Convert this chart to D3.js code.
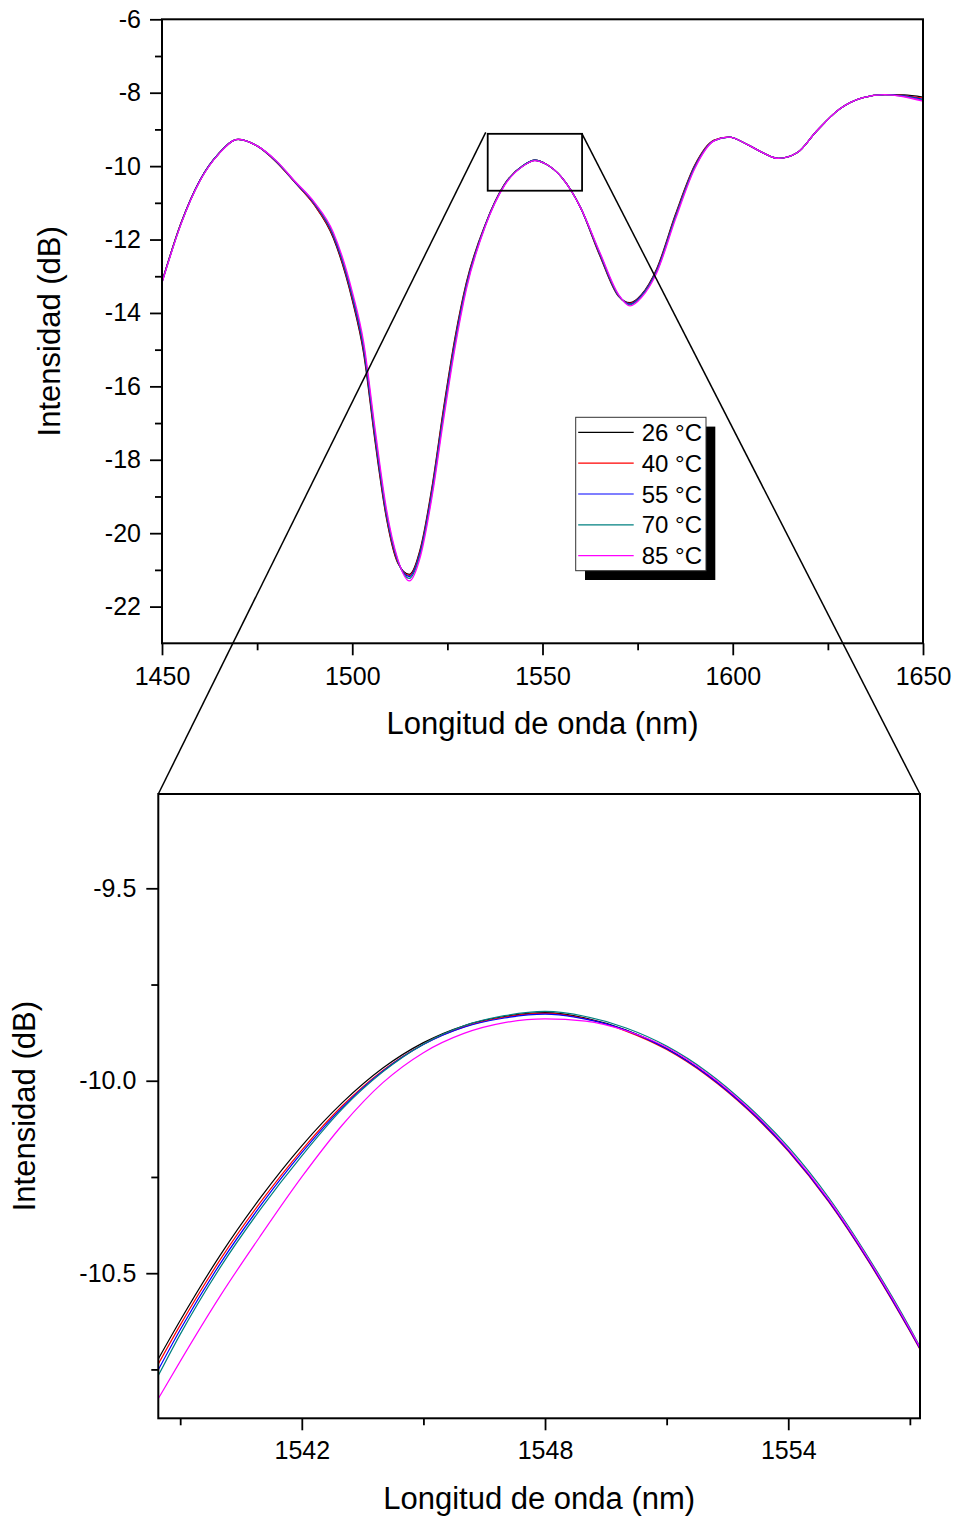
<!DOCTYPE html>
<html><head><meta charset="utf-8">
<script src="https://cdn.jsdelivr.net/npm/d3@7/dist/d3.min.js"></script>
<style>
body{margin:0;background:#fff}
text{font-family:"Liberation Sans",Arial,sans-serif;fill:#000}
</style>
</head><body>
<svg id="chart" width="956" height="1519"></svg>
<script>
// ---------------- data ----------------
const seriesNames  = ["26 °C", "40 °C", "55 °C", "70 °C", "85 °C"];
const seriesColors = ["#000000", "#ff0000", "#0000ff", "#008080", "#ff00ff"];

// full spectrum (upper panel)
const topWavelength = [1450,1455,1460,1465,1470,1475,1480,1485,1490,1495,1500,1503,1506,1509,1512,1515,1518,1521,1524,1527,1530,1535,1540,1545,1548,1551,1555,1560,1565,1570,1573,1576,1580,1585,1590,1595,1599,1604,1608,1612,1617,1622,1628,1634,1640,1645,1650];
const top26 = [-13.15,-11.55,-10.38,-9.65,-9.27,-9.45,-9.88,-10.45,-11.05,-11.95,-13.65,-15.10,-17.50,-19.60,-20.82,-21.12,-20.38,-18.72,-16.60,-14.68,-13.17,-11.58,-10.50,-9.98,-9.84,-9.95,-10.30,-11.13,-12.42,-13.55,-13.72,-13.50,-12.80,-11.30,-9.98,-9.30,-9.21,-9.42,-9.64,-9.79,-9.63,-9.05,-8.45,-8.14,-8.05,-8.06,-8.12];
const top40 = [-13.15,-11.55,-10.38,-9.65,-9.27,-9.45,-9.88,-10.45,-11.05,-11.92,-13.60,-15.03,-17.42,-19.55,-20.80,-21.15,-20.43,-18.78,-16.67,-14.74,-13.21,-11.59,-10.50,-9.98,-9.84,-9.95,-10.30,-11.13,-12.40,-13.54,-13.74,-13.52,-12.83,-11.33,-10.00,-9.30,-9.21,-9.42,-9.64,-9.79,-9.63,-9.05,-8.45,-8.14,-8.05,-8.08,-8.15];
const top55 = [-13.16,-11.56,-10.38,-9.65,-9.27,-9.45,-9.87,-10.44,-11.02,-11.88,-13.55,-14.97,-17.35,-19.49,-20.77,-21.18,-20.47,-18.84,-16.74,-14.80,-13.25,-11.60,-10.51,-9.98,-9.84,-9.95,-10.30,-11.13,-12.38,-13.53,-13.76,-13.53,-12.85,-11.36,-10.02,-9.31,-9.21,-9.42,-9.64,-9.79,-9.63,-9.05,-8.45,-8.14,-8.05,-8.09,-8.18];
const top70 = [-13.17,-11.57,-10.39,-9.65,-9.27,-9.45,-9.86,-10.43,-11.00,-11.85,-13.50,-14.90,-17.28,-19.44,-20.75,-21.23,-20.52,-18.90,-16.80,-14.86,-13.29,-11.61,-10.51,-9.98,-9.84,-9.95,-10.30,-11.13,-12.36,-13.52,-13.78,-13.55,-12.88,-11.38,-10.04,-9.31,-9.21,-9.42,-9.64,-9.79,-9.63,-9.05,-8.45,-8.14,-8.05,-8.10,-8.20];
const top85 = [-13.18,-11.58,-10.40,-9.66,-9.27,-9.45,-9.85,-10.42,-10.98,-11.80,-13.42,-14.80,-17.16,-19.35,-20.72,-21.30,-20.60,-18.99,-16.91,-14.95,-13.35,-11.63,-10.53,-9.99,-9.85,-9.95,-10.30,-11.13,-12.33,-13.50,-13.81,-13.58,-12.91,-11.43,-10.07,-9.32,-9.21,-9.42,-9.64,-9.79,-9.63,-9.05,-8.45,-8.14,-8.05,-8.11,-8.23];

// zoomed peak (lower panel)
const zoomWavelength = [1538.46,1539,1540,1541,1542,1543,1544,1545,1546,1547,1548,1549,1550,1551,1552,1553,1554,1555,1556,1557,1557.25];
const zoom26 = [-10.723,-10.623,-10.451,-10.301,-10.169,-10.057,-9.967,-9.901,-9.857,-9.833,-9.823,-9.837,-9.868,-9.916,-9.984,-10.072,-10.180,-10.312,-10.470,-10.648,-10.695];
const zoom40 = [-10.736,-10.635,-10.463,-10.313,-10.180,-10.065,-9.973,-9.905,-9.860,-9.835,-9.825,-9.839,-9.871,-9.919,-9.987,-10.075,-10.183,-10.315,-10.473,-10.651,-10.698];
const zoom55 = [-10.751,-10.647,-10.473,-10.322,-10.187,-10.069,-9.975,-9.906,-9.861,-9.837,-9.827,-9.840,-9.869,-9.917,-9.985,-10.073,-10.181,-10.313,-10.471,-10.649,-10.696];
const zoom70 = [-10.766,-10.659,-10.483,-10.331,-10.195,-10.073,-9.977,-9.905,-9.857,-9.831,-9.820,-9.833,-9.863,-9.910,-9.977,-10.065,-10.172,-10.304,-10.463,-10.642,-10.691];
const zoom85 = [-10.826,-10.729,-10.557,-10.400,-10.250,-10.115,-10.005,-9.927,-9.877,-9.849,-9.839,-9.845,-9.870,-9.913,-9.981,-10.069,-10.177,-10.309,-10.467,-10.645,-10.693];

// axes
const topXDomain = [1450, 1650];
const topYDomain = [-23, -6];
const topXTicksMajor = [1450, 1500, 1550, 1600, 1650];
const topXTicksMinor = [1475, 1525, 1575, 1625];
const topYTicksMajor = [-22, -20, -18, -16, -14, -12, -10, -8, -6];
const topYTicksMinor = [-21, -19, -17, -15, -13, -11, -9, -7];

const zoomXDomain = [1538.46, 1557.25];
const zoomYDomain = [-10.877, -9.255];
const zoomXTicksMajor = [1542, 1548, 1554];
const zoomXTicksMinor = [1539, 1545, 1551, 1557];
const zoomYTicksMajor = [-10.5, -10.0, -9.5];
const zoomYTicksMinor = [-10.75, -10.25, -9.75];

// magnified region marked on the upper panel: [x0, x1, yLow, yHigh]
const zoomBox = [1535.6, 1560.4, -10.67, -9.12];

const xTitle = "Longitud de onda (nm)";
const yTitle = "Intensidad (dB)";

// ---------------- drawing ----------------
const svg = d3.select("#chart");
const topSeries  = [top26, top40, top55, top70, top85];
const zoomSeries = [zoom26, zoom40, zoom55, zoom70, zoom85];
const hyphen = f => (d => f(d).replace("\u2212", "-"));

function panel(cfg) {
  const g = svg.append("g");
  const x = d3.scaleLinear().domain(cfg.xDomain).range([cfg.L, cfg.R]);
  const y = d3.scaleLinear().domain(cfg.yDomain).range([cfg.B, cfg.T]);
  const id = "clip" + cfg.name;
  svg.append("clipPath").attr("id", id).append("rect")
    .attr("x", cfg.L).attr("y", cfg.T).attr("width", cfg.R - cfg.L).attr("height", cfg.B - cfg.T);

  const line = d3.line().x(d => x(d[0])).y(d => y(d[1])).curve(d3.curveMonotoneX);
  const lines = g.append("g").attr("clip-path", `url(#${id})`);
  cfg.series.forEach((vals, i) => {
    lines.append("path")
      .datum(cfg.wl.map((w, k) => [w, vals[k]]))
      .attr("d", line)
      .attr("fill", "none")
      .attr("stroke", seriesColors[i])
      .attr("stroke-width", cfg.lw);
  });

  const ax = [
    g.append("g").attr("transform", `translate(0,${cfg.B})`)
      .call(d3.axisBottom(x).tickValues(cfg.xMajor).tickSize(12).tickPadding(cfg.xPad).tickFormat(d3.format("d"))),
    g.append("g").attr("transform", `translate(0,${cfg.B})`)
      .call(d3.axisBottom(x).tickValues(cfg.xMinor).tickSize(7).tickFormat("")),
    g.append("g").attr("transform", `translate(${cfg.L},0)`)
      .call(d3.axisLeft(y).tickValues(cfg.yMajor).tickSize(12).tickPadding(cfg.yPad).tickFormat(hyphen(cfg.fmt))),
    g.append("g").attr("transform", `translate(${cfg.L},0)`)
      .call(d3.axisLeft(y).tickValues(cfg.yMinor).tickSize(7).tickFormat(""))
  ];
  ax.forEach(a => {
    a.select(".domain").remove();
    a.selectAll(".tick line").attr("stroke", "#000").attr("stroke-width", 1.8);
    a.selectAll(".tick text").attr("font-size", 25).attr("font-family", '"Liberation Sans",Arial,sans-serif').attr("fill", "#000");
  });

  g.append("rect").attr("x", cfg.L).attr("y", cfg.T)
    .attr("width", cfg.R - cfg.L).attr("height", cfg.B - cfg.T)
    .attr("fill", "none").attr("stroke", "#000").attr("stroke-width", 2);

  g.append("text").attr("x", (cfg.L + cfg.R) / 2).attr("y", cfg.xTitleY)
    .attr("text-anchor", "middle").attr("font-size", 31).text(xTitle);
  g.append("text").attr("transform", `translate(${cfg.yTitleX},${(cfg.T + cfg.B) / 2}) rotate(-90)`)
    .attr("text-anchor", "middle").attr("font-size", 31).text(yTitle);
  return {x, y, g};
}

const topP = panel({
  name: "top", L: 162, R: 923, T: 19.3, B: 643.3,
  xDomain: topXDomain, yDomain: topYDomain,
  wl: topWavelength, series: topSeries, lw: 1.3,
  xMajor: topXTicksMajor, xMinor: topXTicksMinor,
  yMajor: topYTicksMajor, yMinor: topYTicksMinor,
  fmt: d3.format("d"), xPad: 12, yPad: 9,
  xTitleY: 734, yTitleX: 60
});

const botP = panel({
  name: "zoom", L: 158.3, R: 920, T: 794, B: 1418.3,
  xDomain: zoomXDomain, yDomain: zoomYDomain,
  wl: zoomWavelength, series: zoomSeries, lw: 1.2,
  xMajor: zoomXTicksMajor, xMinor: zoomXTicksMinor,
  yMajor: zoomYTicksMajor, yMinor: zoomYTicksMinor,
  fmt: d3.format(".1f"), xPad: 11, yPad: 10,
  xTitleY: 1509, yTitleX: 35
});

// magnified-region box on upper panel + connector lines
const bx0 = topP.x(zoomBox[0]), bx1 = topP.x(zoomBox[1]);
const byTop = topP.y(zoomBox[3]), byBot = topP.y(zoomBox[2]);
svg.append("rect").attr("x", bx0).attr("y", byTop)
  .attr("width", bx1 - bx0).attr("height", byBot - byTop)
  .attr("fill", "none").attr("stroke", "#000").attr("stroke-width", 1.8);
svg.append("line")
  .attr("x1", bx0 - 2).attr("y1", byTop - 1.5)
  .attr("x2", botP.x(zoomXDomain[0])).attr("y2", botP.y(zoomYDomain[1]))
  .attr("stroke", "#000").attr("stroke-width", 1.5);
svg.append("line")
  .attr("x1", bx1).attr("y1", byTop)
  .attr("x2", botP.x(zoomXDomain[1])).attr("y2", botP.y(zoomYDomain[1]))
  .attr("stroke", "#000").attr("stroke-width", 1.5);

// legend with drop shadow
const lg = svg.append("g").attr("transform", "translate(575.7,417.3)");
const lw = 130.3, lh = 153.4;
lg.append("rect").attr("x", 9.3).attr("y", 9.3).attr("width", lw).attr("height", lh).attr("fill", "#000");
lg.append("rect").attr("x", 0).attr("y", 0).attr("width", lw).attr("height", lh)
  .attr("fill", "#fff").attr("stroke", "#333").attr("stroke-width", 1);
seriesNames.forEach((n, i) => {
  const yy = 15 + i * 30.85;
  lg.append("line").attr("x1", 2.5).attr("x2", 58).attr("y1", yy).attr("y2", yy)
    .attr("stroke", seriesColors[i]).attr("stroke-width", 1.2);
  lg.append("text").attr("x", 66).attr("y", yy + 8.6).attr("font-size", 24).text(n);
});
</script>
</body></html>
